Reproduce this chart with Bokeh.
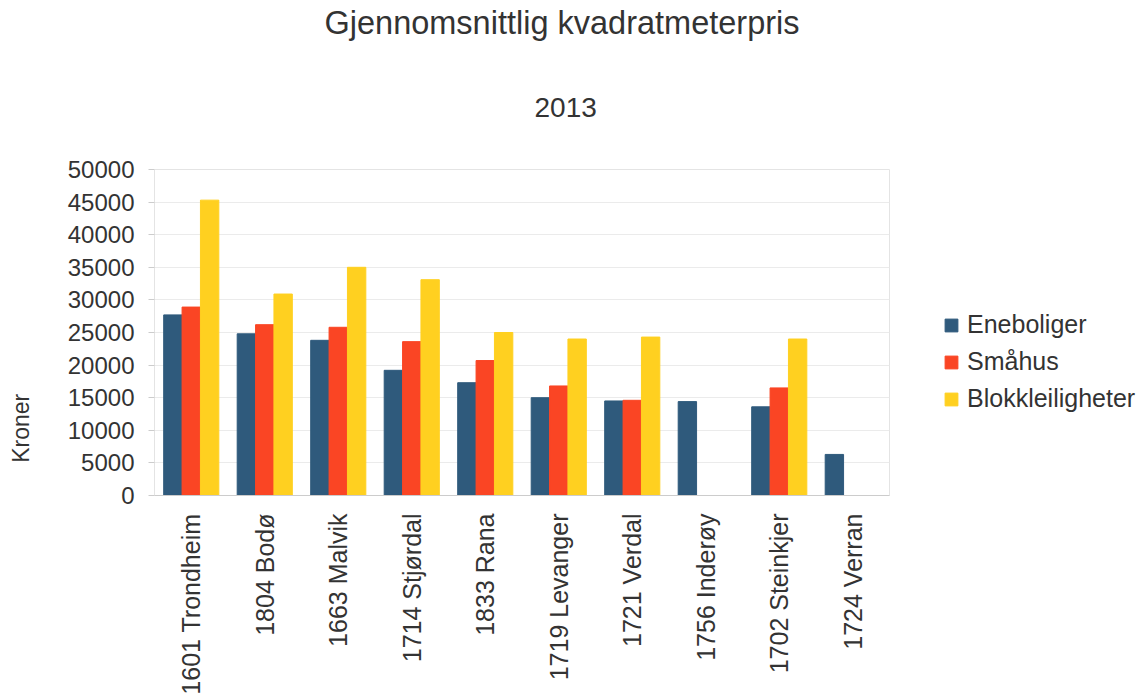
import math
from bokeh.plotting import figure
from bokeh.models import (ColumnDataSource, FactorRange, Range1d, Legend, LegendItem, Title,
                          SingleIntervalTicker, LinearAxis, FixedTicker)
from bokeh.transform import dodge
from bokeh.embed import file_html
from bokeh.resources import INLINE

kommuner = ["1601 Trondheim", "1804 Bodø", "1663 Malvik", "1714 Stjørdal", "1833 Rana",
            "1719 Levanger", "1721 Verdal", "1756 Inderøy", "1702 Steinkjer", "1724 Verran"]
eneboliger = [27700, 24800, 23800, 19200, 17300, 15000, 14500, 14400, 13600, 6300]
smahus = [28900, 26200, 25800, 23600, 20700, 16800, 14600, float("nan"), 16500, float("nan")]
blokk = [45300, 30900, 35000, 33100, 25000, 24000, 24300, float("nan"), 24000, float("nan")]

series_names = ["Eneboliger", "Småhus", "Blokkleiligheter"]
colors = ["#2f5a7c", "#fa4524", "#ffd020"]

src = ColumnDataSource(dict(k=kommuner, e=eneboliger, s=smahus, b=blokk))

FONT = "Liberation Sans"
TXT = "#333333"

p = figure(x_range=FactorRange(*kommuner, range_padding=0), y_range=Range1d(0, 50000),
           frame_width=735, frame_height=326, output_backend="svg", toolbar_location=None,
           min_border_left=154, min_border_right=0, min_border_top=0, min_border_bottom=0)

r1 = p.vbar(x=dodge("k", -0.25, range=p.x_range), top="e", width=0.25, source=src, color=colors[0])
r2 = p.vbar(x=dodge("k", 0.0, range=p.x_range), top="s", width=0.25, source=src, color=colors[1])
r3 = p.vbar(x=dodge("k", 0.25, range=p.x_range), top="b", width=0.25, source=src, color=colors[2])

legend = Legend(items=[LegendItem(label=series_names[0], renderers=[r1]),
                       LegendItem(label=series_names[1], renderers=[r2]),
                       LegendItem(label=series_names[2], renderers=[r3])],
                location=(54, 82), border_line_color=None, background_fill_alpha=0,
                label_text_font=FONT, label_text_font_size="25px", label_text_color=TXT,
                glyph_width=16, glyph_height=16, spacing=8, label_standoff=8, padding=4, margin=0)
p.add_layout(legend, "right")

# Main title (outermost), then subtitle nearer to the frame
p.title.text = "Gjennomsnittlig kvadratmeterpris"
p.title.text_font = FONT
p.title.text_font_size = "32.5px"
p.title.text_font_style = "normal"
p.title.text_color = TXT
p.title.align = "left"
p.title.offset = 170
p.title.standoff = 4
p.add_layout(Title(text="2013", text_font=FONT, text_font_size="28px",
                   text_font_style="normal", text_color=TXT, align="left", offset=380,
                   standoff=106), "above")

p.yaxis.ticker = SingleIntervalTicker(interval=5000)
p.yaxis.major_label_text_font = FONT
p.yaxis.major_label_text_font_size = "24px"
p.yaxis.major_label_text_color = TXT
p.yaxis.axis_line_color = None
p.yaxis.major_tick_line_color = "#cccccc"
p.yaxis.major_tick_out = 6
p.yaxis.major_tick_in = 0
p.yaxis.minor_tick_line_color = None
p.yaxis.major_label_standoff = 14

# axis carrying only the "Kroner" title (trailing no-break spaces push it lower)
kax = LinearAxis(axis_label="Kroner" + "\u00a0" * 30, ticker=FixedTicker(ticks=[]),
                 axis_line_color=None, major_tick_line_color=None, minor_tick_line_color=None,
                 axis_label_text_font=FONT, axis_label_text_font_size="23px",
                 axis_label_text_font_style="normal", axis_label_text_color=TXT,
                 axis_label_standoff=31)
p.add_layout(kax, "left")

p.xaxis.major_label_orientation = math.pi / 2
p.xaxis.major_label_text_font = FONT
p.xaxis.major_label_text_font_size = "25px"
p.xaxis.major_label_text_color = TXT
p.xaxis.axis_line_color = "#cccccc"
p.xaxis.major_tick_line_color = None
p.xaxis.major_label_standoff = 12

p.xgrid.grid_line_color = None
p.ygrid.grid_line_color = "#ebebeb"
p.outline_line_color = "#e4e4e4"

open("out.html", "w").write(file_html(p, INLINE))
